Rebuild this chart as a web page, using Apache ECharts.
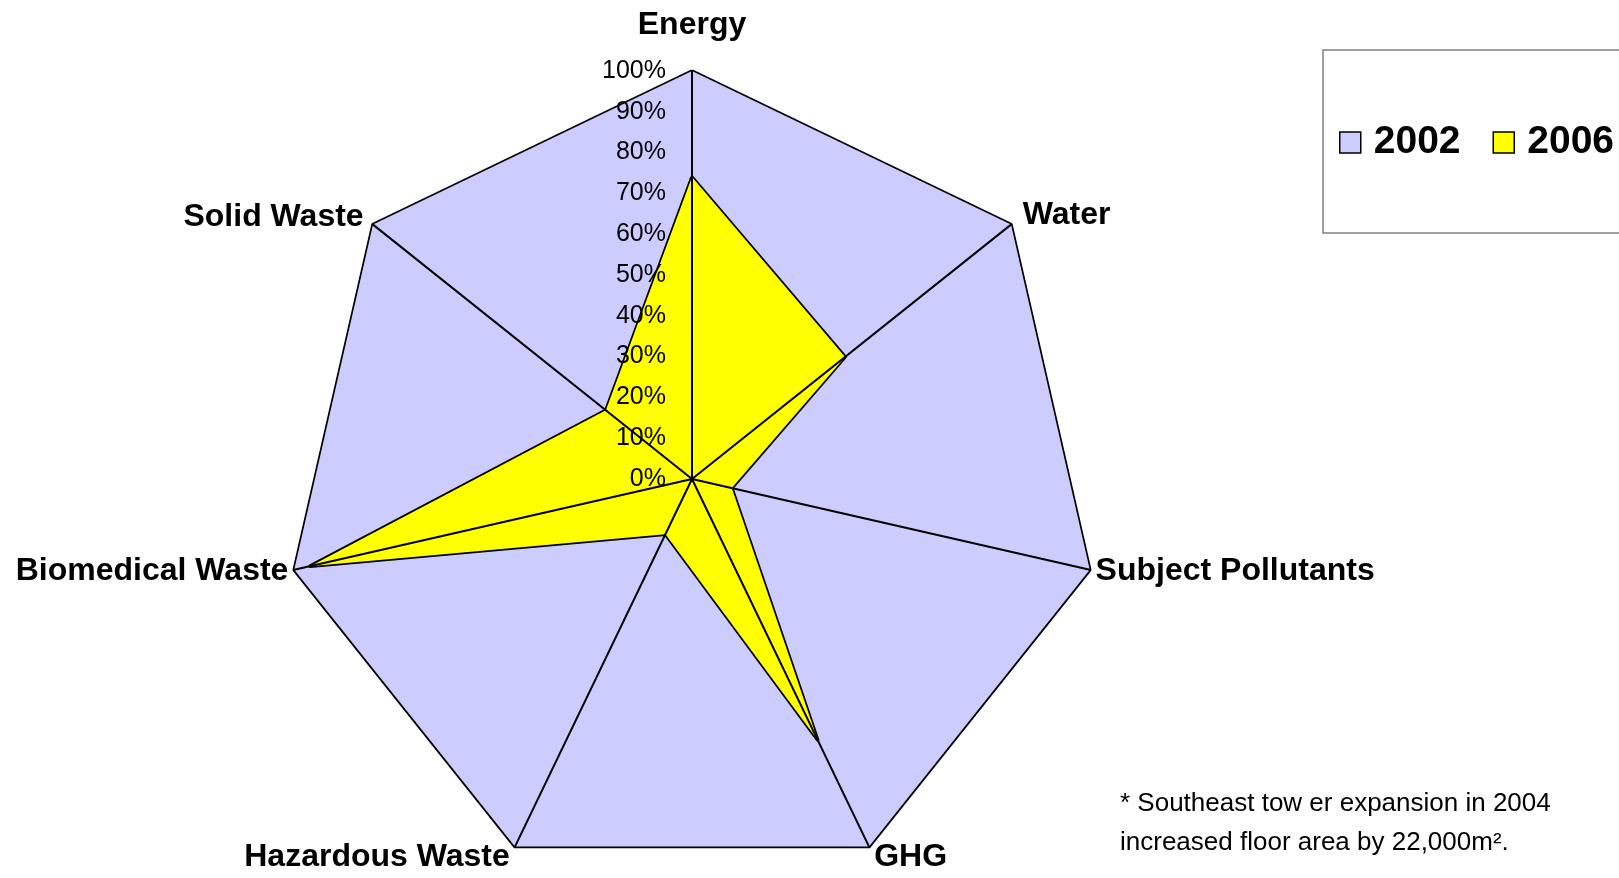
<!DOCTYPE html>
<html>
<head>
<meta charset="utf-8">
<script src="https://cdn.jsdelivr.net/npm/echarts@6/dist/echarts.min.js"></script>
<style>
html,body{margin:0;padding:0;background:#fff;}
#chart{width:1619px;height:878px;}
</style>
</head>
<body>
<div id="chart"></div>
<script>
// Categories in clockwise order starting at the top
var categories = ['Energy', 'Water', 'Subject Pollutants', 'GHG', 'Hazardous Waste', 'Biomedical Waste', 'Solid Waste'];
var values2002 = [100, 100, 100, 100, 100, 100, 100];
var values2006 = [74, 48, 10, 71, 15, 96, 27];
var seriesNames = ['2002', '2006'];
var nameGaps = [30, 15, 6, 12, 12, 6, 12];
var footnote = ['* Southeast tow er expansion in 2004', 'increased floor area by 22,000m\u00B2.'];

// ECharts radar lays indicators out counter-clockwise; reorder so they appear clockwise
function ccw(arr) {
  var out = [arr[0]];
  for (var i = arr.length - 1; i >= 1; i--) out.push(arr[i]);
  return out;
}

var cats = ccw(categories);
var gaps = ccw(nameGaps);
var indicator = cats.map(function (c, i) {
  var ind = { name: c, min: 0, max: 100, nameGap: gaps[i] };
  if (i !== 0) ind.axisLabel = { show: false };
  return ind;
});

var FONT = 'Liberation Sans, Arial, sans-serif';
var chart = echarts.init(document.getElementById('chart'), null, { renderer: 'canvas' });
chart.setOption({
  animation: false,
  backgroundColor: '#ffffff',
  legend: {
    data: seriesNames,
    left: 1339,
    top: 123,
    padding: 0,
    itemGap: 32,
    itemWidth: 21,
    itemHeight: 21,
    icon: 'rect',
    itemStyle: { borderColor: '#000', borderWidth: 1.5 },
    textStyle: { fontFamily: FONT, fontSize: 39, fontWeight: 'bold', color: '#000', padding: [0, 0, 0, 8] },
    z: 10
  },
  radar: {
    center: [692, 479],
    radius: 408,
    startAngle: 90,
    shape: 'polygon',
    splitNumber: 10,
    z: 5,
    indicator: indicator,
    axisName: { fontFamily: FONT, fontSize: 32, fontWeight: 'bold', color: '#000' },
    axisLine: { show: true, lineStyle: { color: '#000', width: 2 } },
    axisTick: { show: false },
    splitLine: { show: false },
    splitArea: { show: false },
    axisLabel: {
      show: true,
      margin: 26,
      fontFamily: FONT,
      fontSize: 25,
      color: '#000',
      formatter: '{value}%'
    }
  },
  series: [{
    type: 'radar',
    symbol: 'none',
    z: 2,
    lineStyle: { color: '#000', width: 3.5 },
    data: [
      {
        name: seriesNames[0],
        value: ccw(values2002),
        itemStyle: { color: '#CCCCFF', borderColor: '#000' },
        lineStyle: { color: '#000', width: 3.5 },
        areaStyle: { color: '#CCCCFF', opacity: 1 }
      },
      {
        name: seriesNames[1],
        value: ccw(values2006),
        itemStyle: { color: '#FFFF00', borderColor: '#000' },
        lineStyle: { color: '#000', width: 3.5 },
        areaStyle: { color: '#FFFF00', opacity: 1 }
      }
    ]
  }],
  graphic: [
    {
      type: 'rect',
      z: 1,
      shape: { x: 1323, y: 50, width: 330, height: 183 },
      style: { fill: '#fff', stroke: '#808080', lineWidth: 1.5 }
    },
    {
      type: 'text',
      x: 1120,
      y: 784,
      style: {
        text: footnote.join('\n'),
        font: '26px ' + FONT,
        lineHeight: 39,
        fill: '#000'
      }
    }
  ]
});
</script>
</body>
</html>
